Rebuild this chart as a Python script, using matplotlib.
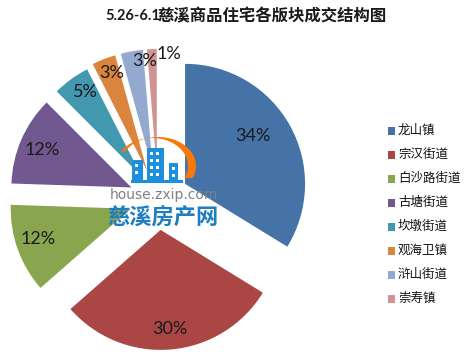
import numpy as np
import matplotlib
matplotlib.use('Agg')
import matplotlib.pyplot as plt
from matplotlib.patches import Rectangle, Polygon

plt.rcParams['font.family'] = ['Noto Sans CJK SC', 'DejaVu Sans']

names = ['龙山镇', '宗汉街道', '白沙路街道', '古塘街道', '坎墩街道', '观海卫镇', '浒山街道', '崇寿镇']
values = [33.8, 29.8, 12, 12, 5, 3.2, 3, 1.3]
pct_labels = ['34%', '30%', '12%', '12%', '5%', '3%', '3%', '1%']
colors = ['#4572A7', '#AA4643', '#89A54E', '#71588F', '#4198AF', '#DB843D', '#93A9CF', '#D19392']

W = 473
H = 355

fig = plt.figure(figsize=(W / 100, H / 100), dpi=100)
ax = fig.add_axes([0, 0, 1, 1])

# axes units are pixels, y flipped by hand
wedges, _ = ax.pie(values, colors=colors, startangle=90, counterclock=False, normalize=True,
                   center=(158, H - 199), radius=120, explode=[31, 31, 29, 29, 28, 30, 30, 30])
ax.set_xlim(0, W)
ax.set_ylim(0, H)
ax.set_aspect('equal')
ax.axis('off')

# percent labels
label_pos = [(253, 136), (170, 329), (38, 239), (42, 150), (85, 92), (112, 73), (145, 61), (169, 54)]
for t, (x, y) in zip(pct_labels, label_pos):
    ax.text(x, H - y, t, fontsize=13, family=['Lato', 'DejaVu Sans'], color='#1a1a1a',
            ha='center', va='center')

# title
ax.text(105, H - 16, '5.26-6.1', fontsize=10.5, fontweight='bold', family=['Lato', 'DejaVu Sans'],
        color='#1a1a1a', ha='left', va='center')
ax.text(157, H - 16, '慈溪商品住宅各版块成交结构图', fontsize=11.8, fontweight='bold',
        color='#1a1a1a', ha='left', va='center')

# legend
leg_y = [131, 155, 179, 203, 227, 251, 275, 299]
for n, c, y in zip(names, colors, leg_y):
    ax.add_patch(Rectangle((388, H - y - 4), 7, 8, color=c, lw=0))
    ax.text(398, H - y + 1, n, fontsize=9, color='#111111', ha='left', va='center')

# watermark: arc
blue = '#1E8FDC'
t = np.radians(np.linspace(-25, 150, 80))
outer = np.c_[158 + 38 * np.cos(t), H - 166 + 29 * np.sin(t)]
inner = np.c_[152 + 36 * np.cos(t[::-1]), H - 166 + 28 * np.sin(t[::-1])]
ax.add_patch(Polygon(np.r_[outer, inner], color='#F57A0A', lw=0, zorder=5))

# watermark: buildings
for x0, x1, top in [(132, 143, 160), (147, 164, 148), (169, 178, 163)]:
    ax.add_patch(Rectangle((x0, H - 181), x1 - x0, 181 - top, color=blue, lw=0, zorder=6))
    for wy in range(top + 4, 176, 7):
        for wx in np.arange(x0 + 3, x1 - 3, 6):
            ax.add_patch(Rectangle((wx, H - wy - 3), 2.5, 3, color='white', lw=0, zorder=7))
ax.add_patch(Rectangle((131, H - 183), 52, 3, color=blue, lw=0, zorder=6))

# watermark: text
ax.text(164, H - 195, 'house.zxip.com', fontsize=10, family='DejaVu Sans', color='#808080',
        ha='center', va='center', zorder=6)
ax.text(163, H - 217, '慈溪房产网', fontsize=16, fontweight='bold', color='#1F7DC0',
        ha='center', va='center', zorder=6)

fig.savefig('out.png', dpi=100)
